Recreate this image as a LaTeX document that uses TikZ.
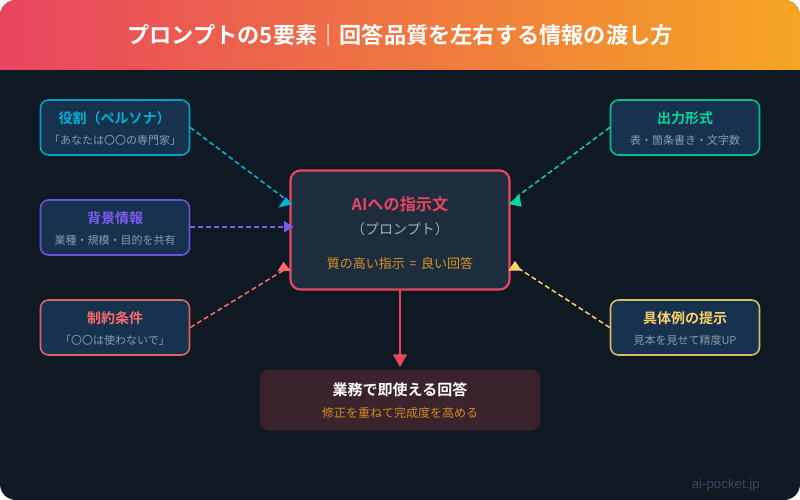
\documentclass[tikz,border=0pt]{standalone}
\usepackage{fontspec}
\setmainfont{Noto Sans CJK JP}
\newfontfamily\jpb{Noto Sans CJK JP Bold}
\newfontfamily\latinw{Liberation Sans}
\usetikzlibrary{arrows.meta,calc}
\definecolor{bgdark}{HTML}{0F1923}
\definecolor{boxfill}{HTML}{16324F}
\definecolor{mainfill}{HTML}{1E2D3D}
\definecolor{pinkc}{HTML}{E94560}
\definecolor{orangec}{HTML}{F5A623}
\definecolor{cyanc}{HTML}{00B4D8}
\definecolor{purplec}{HTML}{7B5CF0}
\definecolor{redc}{HTML}{FF6B6B}
\definecolor{greenc}{HTML}{06D6A0}
\definecolor{yellowc}{HTML}{FFD166}
\definecolor{subc}{HTML}{A0AEC0}
\definecolor{resfill}{HTML}{3A232D}
\definecolor{markc}{HTML}{3F4560}
\tikzset{
  x=1pt,y=-1pt,
  card/.style={draw=#1!85!boxfill,fill=boxfill,line width=1.6pt,rounded corners=8pt,minimum width=149pt,minimum height=55pt,inner sep=0pt},
  headtxt/.style={text=#1,font=\jpb\fontsize{14}{14}\selectfont,anchor=center},
  subtxt/.style={text=subc!85!boxfill,font=\fontsize{11}{11}\selectfont,anchor=center},
  link/.style={draw=#1,line width=1.5pt,dash pattern=on 5pt off 3pt},
}
\begin{document}
\begin{tikzpicture}
\useasboundingbox (0,0) rectangle (800,500);
\fill[white] (0,0) rectangle (800,500);
\fill[bgdark,rounded corners=16pt] (0,0) rectangle (800,500);
\begin{scope}
\clip[rounded corners=16pt] (0,0) rectangle (800,500);
\shade[left color=pinkc,right color=orangec,shading angle=90] (0,0) rectangle (800,70);
\end{scope}
\node[text=white,font=\jpb\fontsize{22.2}{22.2}\selectfont,anchor=center] (title) at (400,35) {プロンプトの5要素｜回答品質を左右する情報の渡し方};

\node[card=cyanc] (role) at (115,127.5) {};
\node[headtxt=cyanc] (roleh) at (114.5,118) {役割（ペルソナ）};
\node[subtxt] (roles) at (115,140) {「あなたは〇〇の専門家」};

\node[card=purplec] (bg) at (115,227.5) {};
\node[headtxt=purplec] (bgh) at (115,218) {背景情報};
\node[subtxt] (bgs) at (115,240) {業種・規模・目的を共有};

\node[card=redc] (lim) at (115,327.5) {};
\node[headtxt=redc] (limh) at (115,318) {制約条件};
\node[subtxt] (lims) at (115,340) {「〇〇は使わないで」};

\node[card=greenc] (out) at (685,127.5) {};
\node[headtxt=greenc] (outh) at (685,118) {出力形式};
\node[subtxt] (outs) at (685,140) {表・箇条書き・文字数};

\node[card=yellowc] (ex) at (685,327.5) {};
\node[headtxt=yellowc] (exh) at (685,318) {具体例の提示};
\node[subtxt] (exs) at (685,340) {見本を見せて精度UP};

\node[draw=pinkc,fill=mainfill,line width=2.2pt,rounded corners=10pt,minimum width=219pt,minimum height=119pt,inner sep=0pt] (main) at (400,230) {};
\node[text=pinkc,font=\jpb\fontsize{16.2}{16.2}\selectfont] (mainh) at (400,204) {AIへの指示文};
\node[text=subc,font=\fontsize{14}{14}\selectfont] (mains) at (400,229) {（プロンプト）};
\node[text=orangec!85!mainfill,font=\fontsize{13}{13}\selectfont] (mainq) at (400,263) {質の高い指示\hspace{4.5pt}=\hspace{4.5pt}良い回答};

\node[fill=resfill,rounded corners=10pt,minimum width=281pt,minimum height=61pt,inner sep=0pt] (res) at (400,400) {};
\node[text=white,font=\jpb\fontsize{15}{15}\selectfont] (resh) at (400,390) {業務で即使える回答};
\node[text=orangec!80!resfill,font=\fontsize{12}{12}\selectfont] (ress) at (400,413) {修正を重ねて完成度を高める};

\coordinate (a1) at (288,201);
\coordinate (a3) at (284,270);
\coordinate (a4) at (514,199);
\coordinate (a5) at (518,268);
\coordinate (bgE) at ($(bg.east)+(0,-0.5)$);
\draw[link=cyanc] (role.east) -- (a1);
\draw[link=purplec,line width=2pt,shorten >=6pt] (bgE) -- (main.west |- bgE);
\draw[link=redc] (lim.east) -- (a3);
\draw[link=greenc] (out.west) -- (a4);
\draw[link=yellowc] (ex.west) -- (a5);
\fill[cyanc] (278.3,207.5) -- (286,197) -- (292,204.3) -- cycle;
\fill[purplec] (284,221) -- (284,232.5) -- (293.5,226.8) -- cycle;
\fill[redc] (283.5,261.7) -- (277.3,271.5) -- (290.7,270.8) -- cycle;
\fill[greenc] (508.3,204) -- (519.3,195) -- (521.7,206.7) -- cycle;
\fill[yellowc] (515,261) -- (508.3,270.7) -- (521.7,270.7) -- cycle;
\draw[draw=pinkc,line width=2.5pt,-{Triangle[length=13pt,width=13.5pt,color=pinkc,fill=pinkc]},shorten >=2pt] (main.south) -- (res.north);

\node[text=markc,font=\latinw\fontsize{13.3}{13.3}\selectfont,anchor=east,inner sep=0pt] (wm) at (760,485) {ai-pocket.jp};
\end{tikzpicture}
\end{document}
